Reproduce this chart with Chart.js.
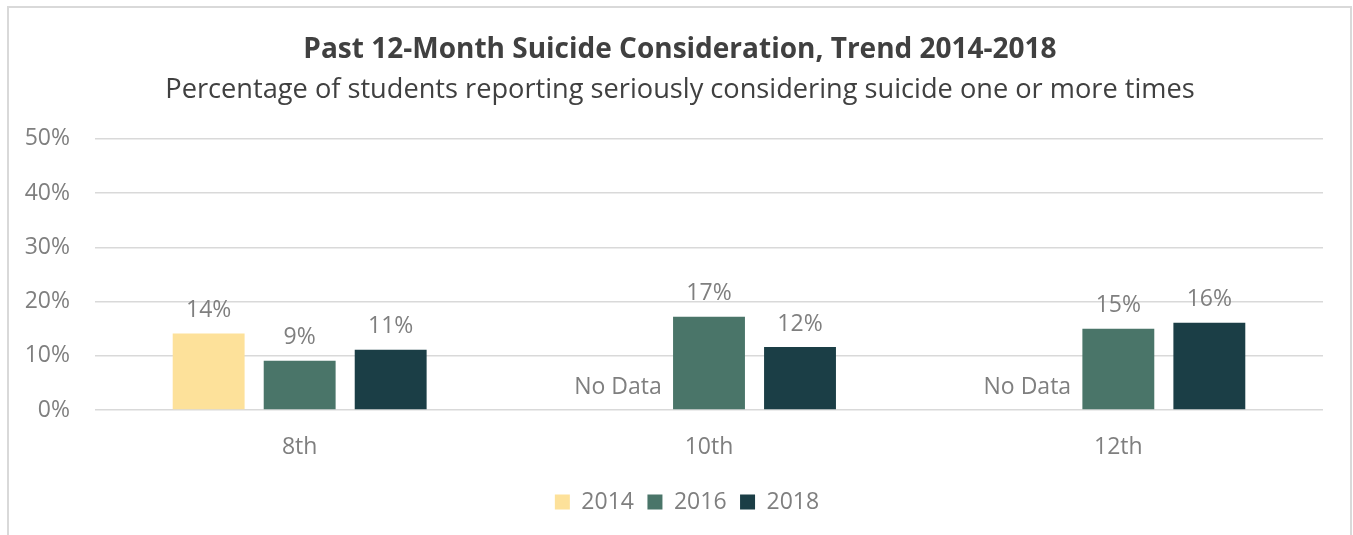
<!DOCTYPE html>
<html>
<head>
<meta charset="utf-8">
<script src="https://cdn.jsdelivr.net/npm/chart.js@4.4.1/dist/chart.umd.min.js"></script>
<style>
  body { margin: 0; background: #fff; }
  canvas { display: block; }
</style>
</head>
<body>
<canvas id="grafico" width="1353" height="535"></canvas>
<script>
const grades = ['8th', '10th', '12th'];
const years = ['2014', '2016', '2018'];
const vals2014 = [14.1, null, null];
const vals2016 = [9.1, 17.2, 15.0];
const vals2018 = [11.1, 11.6, 16.1];
const yTicks = [0, 10, 20, 30, 40, 50];

const cores = ['#fde19a', '#4a7569', '#1b3e46'];
const cinza = '#7f7f7f';
const fonte = "'Open Sans', 'Noto Sans', sans-serif";

// moldura cinza em volta do grafico
const moldura = {
  id: 'moldura',
  beforeDraw(chart) {
    const ctx = chart.ctx;
    ctx.save();
    ctx.strokeStyle = '#d9d9d9';
    ctx.lineWidth = 2;
    ctx.strokeRect(8, 7, 1343, 560);
    ctx.restore();
  }
};

// titulo e legenda ficam centrados um pouco mais a direita no original
const deslocar = {
  id: 'deslocar',
  afterLayout(chart) {
    chart.boxes.forEach(b => {
      if (b instanceof Chart.Scale) return;
      const d = b === chart.legend ? 25.5 : 18.5;
      b.left += d;
      b.right += d;
    });
  }
};

// rotulos de valor e "No Data"
const rotulos = {
  id: 'rotulos',
  afterDatasetsDraw(chart) {
    const ctx = chart.ctx;
    const base = chart.scales.y.getPixelForValue(0);
    ctx.save();
    ctx.font = '23px ' + fonte;
    ctx.fillStyle = cinza;
    ctx.textAlign = 'center';
    ctx.textBaseline = 'middle';
    chart.data.datasets.forEach((ds, i) => {
      const meta = chart.getDatasetMeta(i);
      meta.data.forEach((bar, j) => {
        const v = ds.data[j];
        if (v === null) {
          ctx.fillText('No Data', bar.x, base - 23);
        } else {
          ctx.fillText(Math.round(v) + '%', bar.x, bar.y - 23);
        }
      });
    });
    ctx.restore();
  }
};

const ctx = document.getElementById('grafico').getContext('2d');
const grafico = new Chart(ctx, {
  type: 'bar',
  data: {
    labels: grades,
    datasets: [
      { label: years[0], data: vals2014, backgroundColor: cores[0] },
      { label: years[1], data: vals2016, backgroundColor: cores[1] },
      { label: years[2], data: vals2018, backgroundColor: cores[2] }
    ]
  },
  options: {
    responsive: false,
    animation: false,
    devicePixelRatio: 1,
    categoryPercentage: 0.667,
    barPercentage: 0.79,
    layout: { padding: { left: 0, right: 30, top: 0, bottom: 11.5 } },
    plugins: {
      title: {
        display: true,
        text: 'Past 12-Month Suicide Consideration, Trend 2014-2018',
        color: '#404040',
        font: { family: fonte, size: 28, weight: 'bold', lineHeight: 1.2 },
        padding: { top: 33, bottom: 0 }
      },
      subtitle: {
        display: true,
        text: 'Percentage of students reporting seriously considering suicide one or more times',
        color: '#404040',
        font: { family: fonte, size: 27.2, lineHeight: 1.2 },
        padding: { top: 7, bottom: 32.6 }
      },
      legend: {
        position: 'bottom',
        labels: {
          color: cinza,
          font: { family: fonte, size: 23 },
          boxWidth: 15,
          boxHeight: 15,
          padding: 13.5
        }
      },
      tooltip: { enabled: false }
    },
    scales: {
      x: {
        grid: { display: false },
        border: { display: false },
        ticks: { color: cinza, font: { family: fonte, size: 23 }, padding: 16 },
        afterFit(scale) { scale.height = 67; }
      },
      y: {
        min: 0,
        max: 50,
        grid: { color: '#d9d9d9', lineWidth: 1.5, drawTicks: false },
        border: { display: false },
        afterBuildTicks(scale) { scale.ticks = yTicks.map(v => ({ value: v })); },
        ticks: {
          color: cinza,
          font: { family: fonte, size: 23 },
          padding: 25,
          callback: v => v + '%'
        },
        afterFit(scale) { scale.width = 95; }
      }
    }
  },
  plugins: [moldura, deslocar, rotulos]
});
</script>
</body>
</html>
